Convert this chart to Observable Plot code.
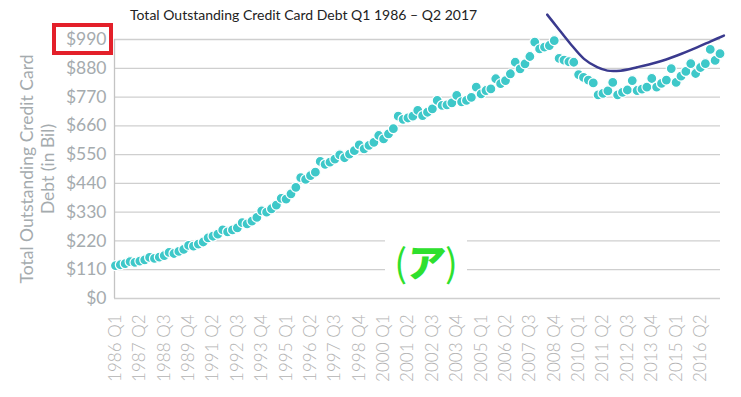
<!DOCTYPE html>
<html><head><meta charset="utf-8">
<script src="https://cdn.jsdelivr.net/npm/d3@7"></script>
<script src="https://cdn.jsdelivr.net/npm/@observablehq/plot@0.6"></script>
<style>
body{margin:0;background:#fff;}
#wrap{position:relative;width:741px;height:397px;overflow:hidden;background:#fff;}
#chart{position:absolute;left:0;top:0;}
#title{position:absolute;left:130px;top:6px;font:14px Lato, sans-serif;color:#222;white-space:nowrap;}
#box{position:absolute;left:52px;top:23px;width:61px;height:32px;border:4px solid #e3202a;box-sizing:border-box;}
#mark{position:absolute;left:385px;top:236px;width:82px;height:50px;background:#fff;text-align:center;
  font-family:"Noto Sans CJK JP",sans-serif;color:#2ee02e;font-size:38px;line-height:50px;white-space:nowrap;}
#mark b{font-weight:900;display:inline-block;transform:skewX(-8deg);}
</style></head><body>
<div id="wrap">
  <div id="chart"></div>
  <div id="title">Total Outstanding Credit Card Debt Q1 1986 – Q2 2017</div>
  <div id="box"></div>
  <div id="mark">(<b>ア</b>)</div>
</div>
<script>
const quarters = [
 "1986 Q1","1986 Q2","1986 Q3","1986 Q4","1987 Q1","1987 Q2","1987 Q3","1987 Q4",
 "1988 Q1","1988 Q2","1988 Q3","1988 Q4","1989 Q1","1989 Q2","1989 Q3","1989 Q4",
 "1990 Q1","1990 Q2","1990 Q3","1990 Q4","1991 Q2","1991 Q3","1991 Q4",
 "1992 Q1","1992 Q2","1992 Q3","1992 Q4","1993 Q1","1993 Q2","1993 Q3","1993 Q4",
 "1994 Q1","1994 Q2","1994 Q3","1994 Q4","1995 Q1","1995 Q2","1995 Q3","1995 Q4",
 "1996 Q1","1996 Q2","1996 Q3","1996 Q4","1997 Q1","1997 Q2","1997 Q3","1997 Q4",
 "1998 Q1","1998 Q2","1998 Q3","1998 Q4","1999 Q1","1999 Q2","1999 Q3","1999 Q4",
 "2000 Q1","2000 Q2","2000 Q3","2000 Q4","2001 Q1","2001 Q2","2001 Q3","2001 Q4",
 "2002 Q1","2002 Q2","2002 Q3","2002 Q4","2003 Q1","2003 Q2","2003 Q3","2003 Q4",
 "2004 Q1","2004 Q2","2004 Q3","2004 Q4","2005 Q1","2005 Q2","2005 Q3","2005 Q4",
 "2006 Q1","2006 Q2","2006 Q3","2006 Q4","2007 Q1","2007 Q2","2007 Q3","2007 Q4",
 "2008 Q1","2008 Q2","2008 Q3","2008 Q4","2009 Q1","2009 Q2","2009 Q3","2009 Q4",
 "2010 Q1","2010 Q2","2010 Q3","2010 Q4","2011 Q1","2011 Q2","2011 Q3","2011 Q4",
 "2012 Q1","2012 Q2","2012 Q3","2012 Q4","2013 Q1","2013 Q2","2013 Q3","2013 Q4",
 "2014 Q1","2014 Q2","2014 Q3","2014 Q4","2015 Q1","2015 Q2","2015 Q3","2015 Q4",
 "2016 Q1","2016 Q2","2016 Q3","2016 Q4","2017 Q1","2017 Q2"
];
const debt = [
 126,129,133,141, 138,143,148,157,
 153,158,164,176, 172,180,188,203,
 200,208,216,232, 238,246,262,
 255,262,270,290, 285,296,310,335,
 330,343,357,383, 380,400,425,462,
 455,470,483,524, 513,521,533,549,
 538,552,565,587, 572,585,597,623,
 610,629,649,697, 685,690,697,719,
 699,712,725,757, 738,740,748,776,
 752,757,769,808, 782,795,801,840,
 821,833,859,903, 878,897,925,980,
 954,961,967,986, 918,911,905,903,
 856,845,835,824, 778,784,794,826,
 778,788,797,833, 795,800,808,841,
 808,822,835,879, 826,850,868,898,
 860,883,898,952, 910,936
];
const tickLabels = ["1986 Q1","1987 Q2","1988 Q3","1989 Q4","1991 Q2","1992 Q3","1993 Q4","1995 Q1",
 "1996 Q2","1997 Q3","1998 Q4","2000 Q1","2001 Q2","2002 Q3","2003 Q4","2005 Q1","2006 Q2",
 "2007 Q3","2008 Q4","2010 Q1","2011 Q2","2012 Q3","2013 Q4","2015 Q1","2016 Q2"];
const yTicks = [0,110,220,330,440,550,660,770,880,990];
// hand-drawn annotation curve (position in quarter index, value in $bn)
const trendIdx = [88.55, 90.6, 93.3, 96.1, 98.8, 100.9, 103.6, 107.0, 111.1, 115.2, 119.3, 122.1, 124.8];
const trendVal = [1085, 1037, 974, 916, 884, 871, 871, 884, 903, 929, 960, 983, 1005];
const yTitle = "Total Outstanding Credit Card\nDebt (in Bil)";

const data = quarters.map((q, i) => ({i, q, v: debt[i]}));
const trend = trendIdx.map((x, k) => ({x, y: trendVal[k]}));
const tickPos = tickLabels.map(t => quarters.indexOf(t));
const xMin = -0.2, xMax = 124.1;

const chart = Plot.plot({
  width: 741, height: 397,
  marginLeft: 114, marginRight: 21, marginTop: 39, marginBottom: 99,
  style: {fontFamily: "Lato, sans-serif", background: "transparent", overflow: "visible"},
  x: {type: "linear", domain: [xMin, xMax]},
  y: {domain: [0, 990]},
  marks: [
    Plot.ruleY(yTicks, {stroke: "#cfcfcf", strokeWidth: 1.3}),
    Plot.ruleX([xMin], {y1: 0, y2: 990, stroke: "#c4c4c4", strokeWidth: 1.3}),
    Plot.axisY(yTicks, {tickSize: 0, tickPadding: 8, tickFormat: d => "$" + d, fontSize: 17.5, color: "#a5abae", label: null}),
    Plot.axisX(tickPos, {tickSize: 0, tickPadding: 16, tickRotate: -90, tickFormat: i => quarters[i], fontSize: 17, fontWeight: 300, color: "#b3b3b3", label: null}),
    Plot.dot(data, {x: "i", y: "v", r: 5, fill: "#3ec8c9", stroke: "white", strokeWidth: 1.2}),
    Plot.line(trend, {x: "x", y: "y", curve: "catmull-rom", stroke: "#3a3a8e", strokeWidth: 2.5}),
    Plot.text([yTitle], {frameAnchor: "left", dx: -78, rotate: -90, fontSize: 17.5, lineHeight: 1.25, fill: "#a5abae", textAnchor: "middle"})
  ]
});
document.getElementById("chart").appendChild(chart);
</script>
</body></html>
